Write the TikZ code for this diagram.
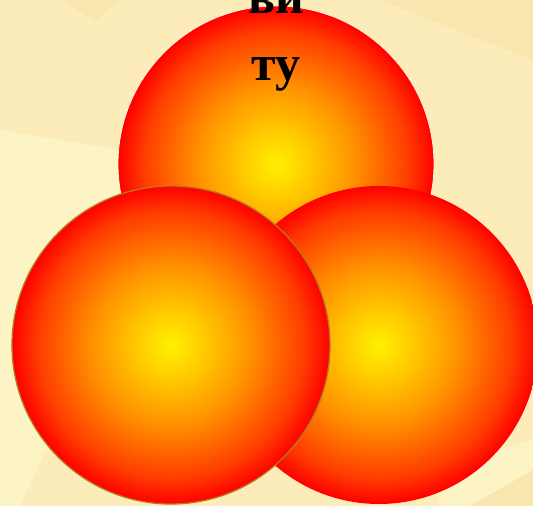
\documentclass[tikz,border=0pt]{standalone}
\usepackage{fontspec}
\setmainfont{Liberation Serif}
\definecolor{cY}{RGB}{255,240,0}
\definecolor{cY2}{RGB}{255,205,0}
\definecolor{cO}{RGB}{255,145,0}
\definecolor{cR2}{RGB}{255,60,0}
\definecolor{cR}{RGB}{255,0,0}
\definecolor{bgA}{RGB}{251,236,185}
\definecolor{bgL}{RGB}{253,244,198}
\definecolor{bgD}{RGB}{249,230,175}
\definecolor{rimC}{RGB}{185,120,30}
\pgfdeclareradialshading{ballshade}{\pgfpoint{0bp}{0bp}}{color(0bp)=(cY); color(5bp)=(cY2); color(12.5bp)=(cO); color(21bp)=(cR2); color(25bp)=(cR); color(50bp)=(cR)}
\tikzset{
  ball/.style={circle, inner sep=0pt, minimum size=#1, shading=ballshade},
  lbl/.style={font=\fontsize{50}{50}\selectfont\bfseries, inner sep=0pt, anchor=base}
}
\begin{document}
\begin{tikzpicture}[x=1pt,y=-1pt]
\useasboundingbox (0,0) rectangle (533,506);
\clip (0,0) rectangle (533,506);
% background
\fill[bgA] (0,0) rectangle (533,506);
\fill[bgL] (0,130) -- (120,150) -- (150,300) -- (60,420) -- (0,430) -- cycle;
\fill[bgL] (0,430) -- (60,420) -- (20,506) -- (0,506) -- cycle;
\fill[bgD] (60,0) -- (95,20) -- (120,0) -- cycle;
\fill[bgD] (380,0) -- (533,60) -- (533,0) -- cycle;
\fill[bgL] (430,470) -- (533,440) -- (533,506) -- (440,506) -- cycle;
\fill[bgD] (470,506) -- (533,470) -- (533,506) -- cycle;
% circles
\node[ball=316pt, draw=bgL!70!white, line width=0.8pt] (top) at (276,164) {};
\node[ball=318pt] (right) at (379,345) {};
\node[ball=318pt, draw=rimC, line width=1.3pt] (left) at (171,345) {};
% text
\node[lbl] (w1) at (276,13) {ви};
\node[lbl] (w2) at (276,80) {ту};
\end{tikzpicture}
\end{document}
